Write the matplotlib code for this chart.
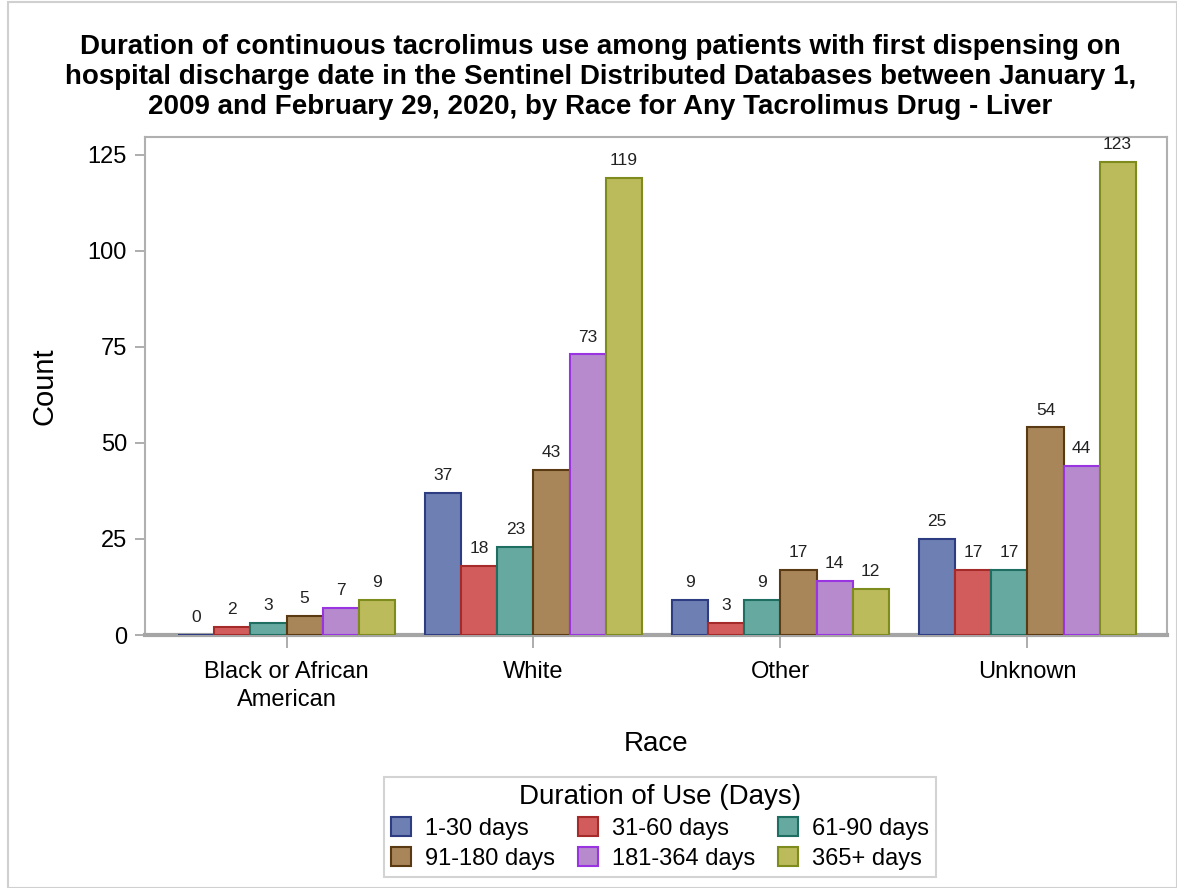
import matplotlib
matplotlib.use("Agg")
import matplotlib.pyplot as plt
import numpy as np
from matplotlib.patches import Rectangle

plt.rcParams['font.family'] = ['Liberation Sans', 'DejaVu Sans']

races = ["Black or African\nAmerican", "White", "Other", "Unknown"]
durations = ["1-30 days", "31-60 days", "61-90 days", "91-180 days", "181-364 days", "365+ days"]
d_1_30 = [0, 37, 9, 25]
d_31_60 = [2, 18, 3, 17]
d_61_90 = [3, 23, 9, 17]
d_91_180 = [5, 43, 17, 54]
d_181_364 = [7, 73, 14, 44]
d_365p = [9, 119, 12, 123]
series = [d_1_30, d_31_60, d_61_90, d_91_180, d_181_364, d_365p]

fills = ["#6E7FB4", "#D25C5C", "#66A9A0", "#A8865A", "#B68ACD", "#BBBB5C"]
edges = ["#2E3C82", "#A52A2A", "#1E6E62", "#5A3A12", "#9A34E0", "#7E8C1E"]

fig = plt.figure(figsize=(11.77, 8.88), dpi=100)
ax = fig.add_axes([145/1177, 1 - 635/888, (1167-145)/1177, (635-137)/888])

x = np.arange(len(races))
bw = 0.146
handles = []
for i, (vals, fc, ec) in enumerate(zip(series, fills, edges)):
    off = (i - 2.5) * bw
    bars = ax.bar(x + off, vals, width=bw, color=fc, edgecolor=ec, linewidth=1.5, label=durations[i], zorder=3)
    handles.append(bars)
    for xi, v in zip(x + off, vals):
        ax.text(xi, v + 2.6, str(v), ha='center', va='bottom', fontsize=12.5, color='#222222')

ax.set_xlim(-0.573, 3.565)
ax.set_ylim(0, 129.6)
ax.set_yticks([0, 25, 50, 75, 100, 125])
ax.set_xticks(x)
ax.set_xticklabels(races, fontsize=17, linespacing=1.35)
ax.tick_params(axis='y', labelsize=17, length=7, width=1.2, color='#A0A0A0', direction='out', pad=6)
ax.tick_params(axis='x', length=9, width=1.2, color='#A0A0A0', direction='out', pad=10)
for s in ax.spines.values():
    s.set_color('#B0B0B0')
    s.set_linewidth(1.5)
ax.spines['bottom'].set_linewidth(3)
ax.spines['bottom'].set_color('#A5A5A5')
ax.set_ylabel("Count", fontsize=21, labelpad=21)
ax.set_xlabel("Race", fontsize=20, labelpad=14)

fig.suptitle("Duration of continuous tacrolimus use among patients with first dispensing on\n"
             "hospital discharge date in the Sentinel Distributed Databases between January 1,\n"
             "2009 and February 29, 2020, by Race for Any Tacrolimus Drug - Liver",
             fontsize=20, fontweight='bold', x=0.51, y=0.962, linespacing=1.2)

# row-wise legend ordering (matplotlib fills column-wise)
order = [0, 3, 1, 4, 2, 5]
leg = fig.legend([handles[k] for k in order], [durations[k] for k in order],
                 loc='center', bbox_to_anchor=(660/1177, 1 - 827/888), ncol=3,
                 title="Duration of Use (Days)", fontsize=17, title_fontsize=20,
                 frameon=True, fancybox=False, edgecolor='#C8C8C8',
                 handlelength=0.85, handleheight=0.85, handletextpad=0.6,
                 columnspacing=0.95, labelspacing=0.3, borderpad=0.3)
leg.get_frame().set_linewidth(1.5)

fig.patches.append(Rectangle((8/1177, 0), 1 - 8/1177, 1 - 2/888, transform=fig.transFigure,
                             fill=False, edgecolor='#D0D0D0', linewidth=1.5))

fig.savefig("out.png", dpi=100)
